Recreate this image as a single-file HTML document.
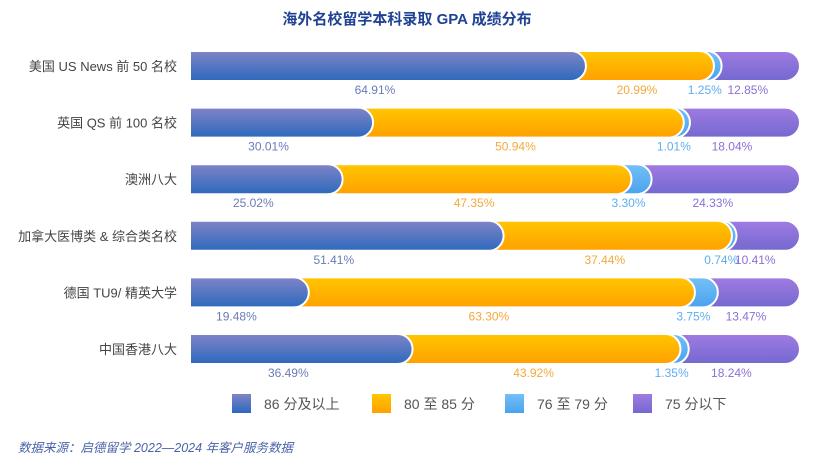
<!DOCTYPE html>
<html><head><meta charset="utf-8">
<style>
body{margin:0;background:#fff;font-family:"Liberation Sans","Noto Sans CJK SC",sans-serif;}
svg text{font-family:"Liberation Sans","Noto Sans CJK SC",sans-serif;}
</style></head>
<body>
<svg width="814" height="461" viewBox="0 0 814 461">
<defs>
<linearGradient id="g0" x1="0" y1="0" x2="0" y2="1"><stop offset="0" stop-color="#8084c6"/><stop offset="1" stop-color="#2c69bd"/></linearGradient>
<linearGradient id="g1" x1="0" y1="0" x2="0" y2="1"><stop offset="0" stop-color="#ffc600"/><stop offset="1" stop-color="#ffa000"/></linearGradient>
<linearGradient id="g2" x1="0" y1="0" x2="0" y2="1"><stop offset="0" stop-color="#74c0f7"/><stop offset="1" stop-color="#4aa2ee"/></linearGradient>
<linearGradient id="g3" x1="0" y1="0" x2="0" y2="1"><stop offset="0" stop-color="#a07be2"/><stop offset="1" stop-color="#7369cf"/></linearGradient>
</defs>
<text x="407" y="24" text-anchor="middle" font-size="15" font-weight="bold" fill="#1f4294">海外名校留学本科录取 GPA 成绩分布</text>
<g id="bars"></g>
<g id="legend"></g>
<text x="18" y="452" font-size="12.5" font-style="italic" fill="#4a63a8">数据来源：启德留学 2022—2024 年客户服务数据</text>
</svg>
<script>
const categories=["美国 US News 前 50 名校","英国 QS 前 100 名校","澳洲八大","加拿大医博类 & 综合类名校","德国 TU9/ 精英大学","中国香港八大"];
const s86=[64.91,30.01,25.02,51.41,19.48,36.49];
const s80=[20.99,50.94,47.35,37.44,63.30,43.92];
const s76=[1.25,1.01,3.30,0.74,3.75,1.35];
const s75=[12.85,18.04,24.33,10.41,13.47,18.24];
const seriesNames=["86 分及以上","80 至 85 分","76 至 79 分","75 分以下"];
const series=[s86,s80,s76,s75];
const fills=["url(#g0)","url(#g1)","url(#g2)","url(#g3)"];
const labelColors=["#6b7bb8","#f5a93a","#5eaef0","#8a70d6"];
const NS="http://www.w3.org/2000/svg";
const X0=190,W=610,H=30;
const xs=v=>X0+v/100*W;
const ys=i=>51+i*56.6;
const g=document.getElementById('bars');
function mk(t,a){const e=document.createElementNS(NS,t);for(const k in a)e.setAttribute(k,a[k]);return e;}
categories.forEach((c,i)=>{
  const y=ys(i);
  const cl=mk('text',{x:177,y:y+H/2+5,'text-anchor':'end','font-size':13,fill:'#444'});
  cl.textContent=c;
  
  
  g.appendChild(cl);
  const cum=[];let s=0;series.forEach(a=>{s+=a[i];cum.push(s);});
  const tot=s;
  for(let k=3;k>=0;k--){
    const x1=xs(cum[k]/tot*100),r=H/2;
    const p=mk('path',{d:`M${X0},${y} H${x1-r} A${r},${r} 0 0 1 ${x1-r},${y+H} H${X0} Z`,fill:fills[k],stroke:'#fff','stroke-width':2});
    
    
    g.appendChild(p);
  }
  for(let k=0;k<4;k++){
    const st=k?cum[k-1]:0;
    const cx=xs((st+series[k][i]/2)/tot*100)-13;
    const t=mk('text',{x:cx,y:y+H+13,'text-anchor':'middle','font-size':12,fill:labelColors[k]});
    t.textContent=series[k][i].toFixed(2)+'%';
    
    
    g.appendChild(t);
  }
});
const lg=document.getElementById('legend');
const lx=[232,372,505,633];
seriesNames.forEach((n,k)=>{
  const r=mk('rect',{x:lx[k],y:394,width:19,height:19,fill:fills[k]});
  
  
  lg.appendChild(r);
  const t=mk('text',{x:lx[k]+32,y:409,'font-size':14,fill:'#555'});
  t.textContent=n;
  
  
  lg.appendChild(t);
});
</script>
</body></html>
